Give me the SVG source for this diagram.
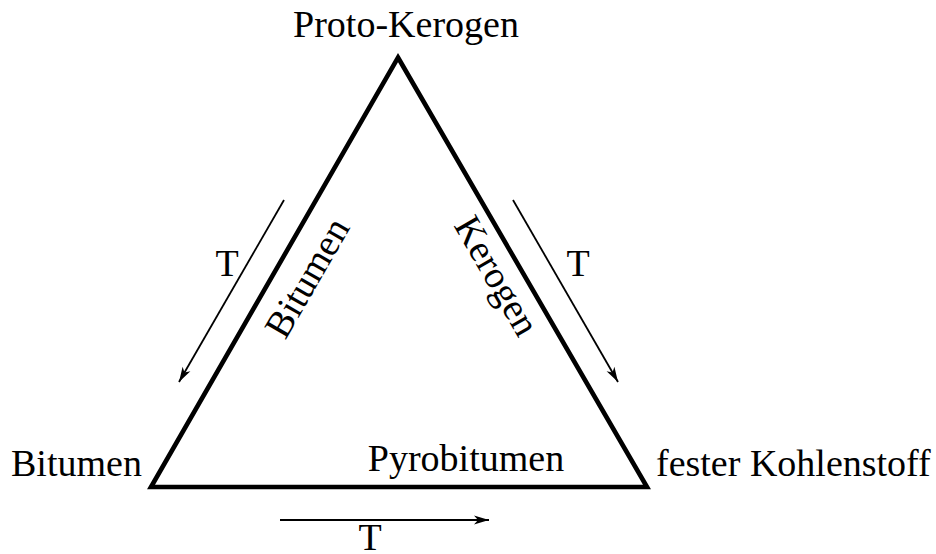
<svg xmlns="http://www.w3.org/2000/svg" width="936" height="554" viewBox="0 0 936 554">
<style>
text{font-family:"Liberation Serif","Times New Roman",serif;font-size:38px;fill:#000}
.arr{stroke:#000;stroke-width:1.8;fill:none;marker-end:url(#ah)}
.tri{stroke:#000;stroke-width:4.6;fill:none;stroke-linejoin:miter;stroke-miterlimit:10}
</style>
<defs>
<marker id="ah" markerUnits="userSpaceOnUse" markerWidth="20" markerHeight="12" viewBox="-16 -6 18 12" refX="0" refY="0" orient="auto">
<path d="M0,0 L-15,-4.5 L-11,0 L-15,4.5 Z" fill="#000"/>
</marker>
</defs>
<g id="triangle">
<polygon class="tri" points="398,57.5 647,487 151,487"/>
</g>
<g id="connectors">
<line class="arr" x1="284" y1="200" x2="179" y2="382"/>
<line class="arr" x1="513" y1="200" x2="618" y2="382"/>
<line class="arr" x1="280" y1="520" x2="489" y2="520"/>
</g>
<g id="node-proto-kerogen"><text x="406" y="37" text-anchor="middle">Proto-Kerogen</text></g>
<g id="node-bitumen"><text x="11" y="476">Bitumen</text></g>
<g id="node-kohlenstoff"><text x="656" y="476">fester Kohlenstoff</text></g>
<g id="edge-labels">
<text x="318" y="284" text-anchor="middle" transform="rotate(-60 318 284)">Bitumen</text>
<text x="486" y="282" text-anchor="middle" transform="rotate(60 486 282)">Kerogen</text>
<text x="466" y="471" text-anchor="middle">Pyrobitumen</text>
<text x="227" y="276" text-anchor="middle">T</text>
<text x="578" y="276" text-anchor="middle">T</text>
<text x="370" y="550" text-anchor="middle">T</text>
</g>
</svg>
